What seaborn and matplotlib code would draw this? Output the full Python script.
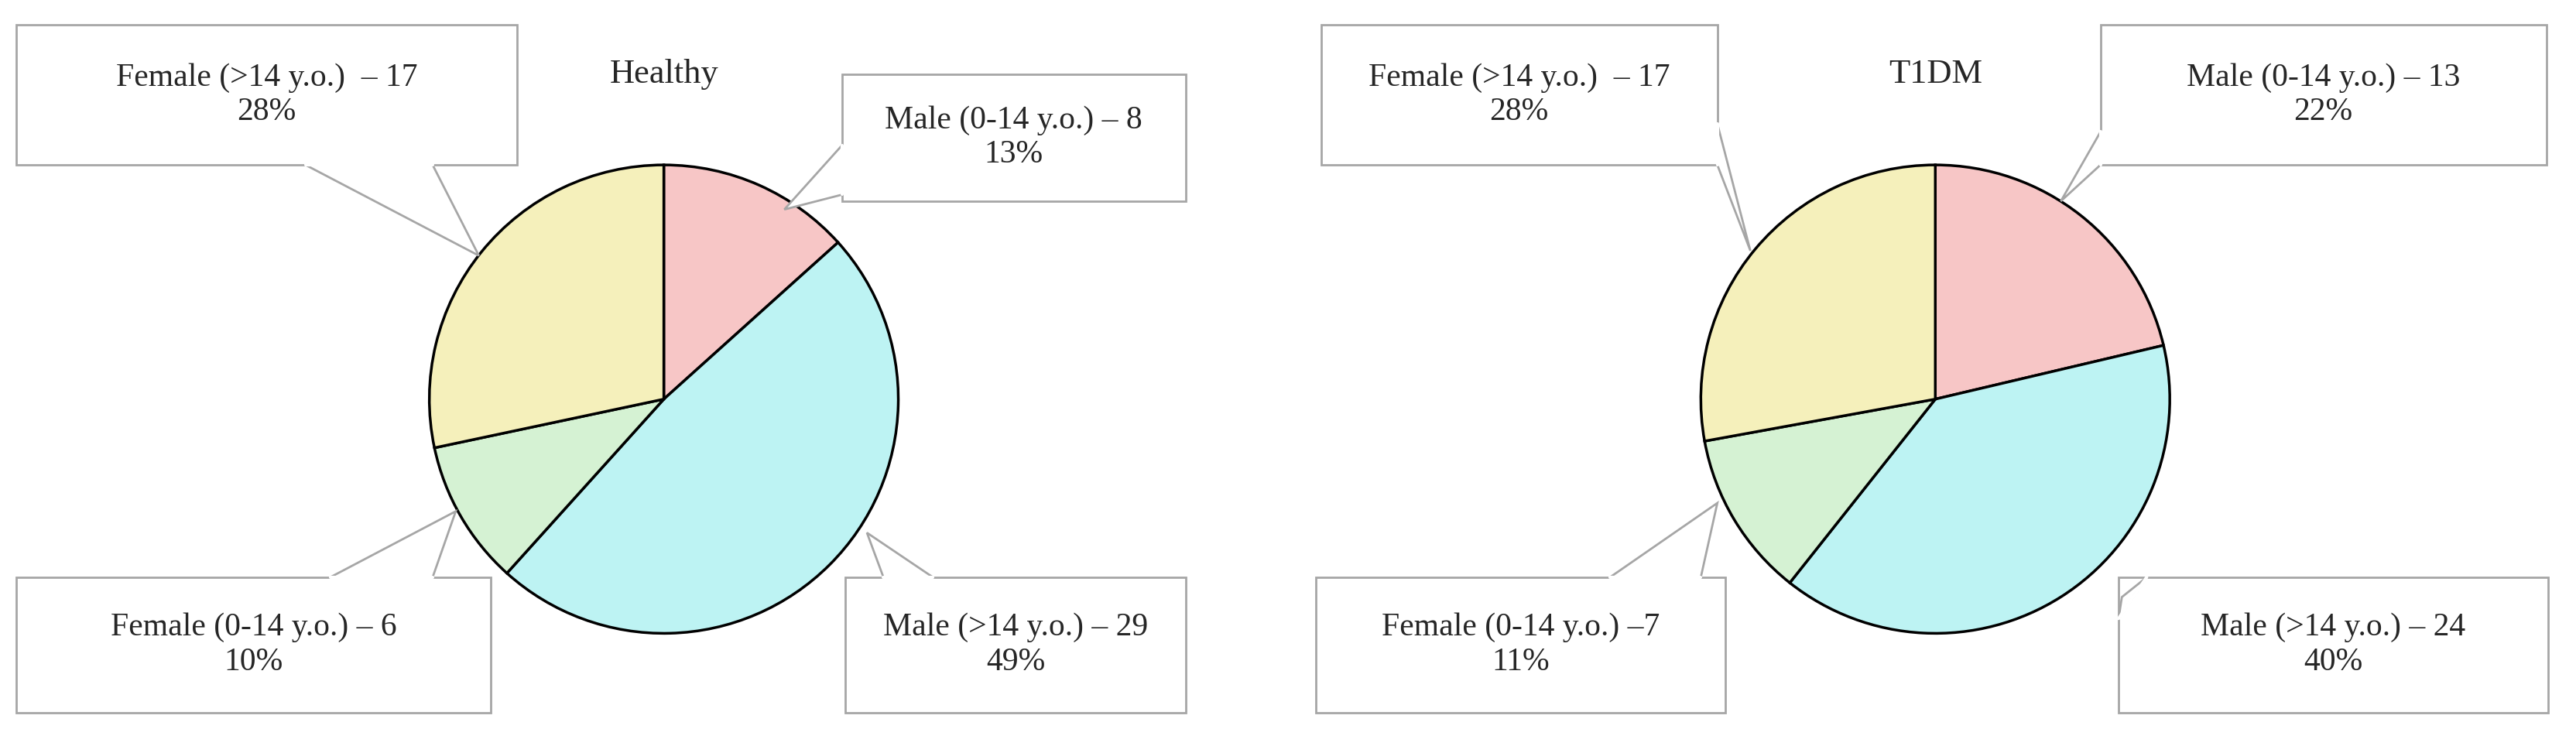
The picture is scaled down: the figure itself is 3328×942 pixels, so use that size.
import matplotlib
matplotlib.use('Agg')
import matplotlib.pyplot as plt
import seaborn as sns
from matplotlib.patches import Rectangle, Polygon

sns.set_style('white')
plt.rcParams['font.family'] = ['Liberation Serif', 'DejaVu Serif']

groups = ['Healthy', 'T1DM']
categories = ['Male (0-14 y.o.)', 'Male (>14 y.o.)', 'Female (0-14 y.o.)', 'Female (>14 y.o.)']
healthy_counts = [8, 29, 6, 17]
t1dm_counts = [13, 24, 7, 17]
healthy_pct = ['13%', '49%', '10%', '28%']
t1dm_pct = ['22%', '40%', '11%', '28%']
colors = ['#f7c6c6', '#bdf3f3', '#d5f2d3', '#f5f0bb']

H = 442
fig = plt.figure(figsize=(33.28, 9.42), dpi=100)
ax = fig.add_axes([0, 0, 1, 1])

centers = [(402, H - 242), (1172, H - 242)]
radius = 142

# callout boxes (display px, y downward): x0, y0, x1, y1, base points, tip
callouts = [
    [  # Healthy
        (510, 45, 718, 122, [(510, 88), (510, 118)], (475, 127), 'Male (0-14 y.o.) – 8'),
        (512, 350, 718, 432, [(535, 350), (565, 350)], (525, 323), 'Male (>14 y.o.) – 29'),
        (10, 350, 297, 432, [(200, 350), (262, 350)], (276, 310), 'Female (0-14 y.o.) – 6'),
        (10, 15, 313, 100, [(185, 100), (262, 100)], (290, 155), 'Female (>14 y.o.)  – 17'),
    ],
    [  # T1DM
        (1272, 15, 1542, 100, [(1272, 80), (1272, 100)], (1248, 122), 'Male (0-14 y.o.) – 13'),
        (1283, 350, 1543, 432, [(1283, 375), (1300, 350)], (1285, 362), 'Male (>14 y.o.) – 24'),
        (797, 350, 1045, 432, [(975, 350), (1030, 350)], (1040, 305), 'Female (0-14 y.o.) –7'),
        (800, 15, 1040, 100, [(1040, 75), (1040, 100)], (1060, 152), 'Female (>14 y.o.)  – 17'),
    ],
]

for g, counts, pcts, (cx, cy), calls in zip(groups, [healthy_counts, t1dm_counts],
                                             [healthy_pct, t1dm_pct], centers, callouts):
    ax.pie(counts, colors=colors, startangle=90, counterclock=False,
           center=(cx, cy), radius=radius, frame=True,
           wedgeprops=dict(edgecolor='black', linewidth=2.5))
    ax.text(cx, H - 45, g, ha='center', va='center', fontsize=32)
    for (x0, y0, x1, y1, base, tip, lab), pct in zip(calls, pcts):
        ax.add_patch(Rectangle((x0, H - y1), x1 - x0, y1 - y0, facecolor='white',
                               edgecolor='#a6a6a6', linewidth=2, zorder=5))
        pts = [(base[0][0], H - base[0][1]), (tip[0], H - tip[1]), (base[1][0], H - base[1][1])]
        ax.add_patch(Polygon(pts, closed=True, facecolor='white', edgecolor='#a6a6a6',
                             linewidth=2, zorder=6))
        ax.plot([pts[0][0], pts[2][0]], [pts[0][1], pts[2][1]], color='white', lw=3, zorder=7)
        ax.text((x0 + x1) / 2, H - (y0 + y1) / 2, lab + '\n' + pct, ha='center', va='center',
                fontsize=30, linespacing=1.2, zorder=8)

ax.set_xlim(0, 1560)
ax.set_ylim(0, H)
ax.set_aspect('equal', adjustable='datalim')
ax.axis('off')

fig.savefig('out.png', dpi=100)
